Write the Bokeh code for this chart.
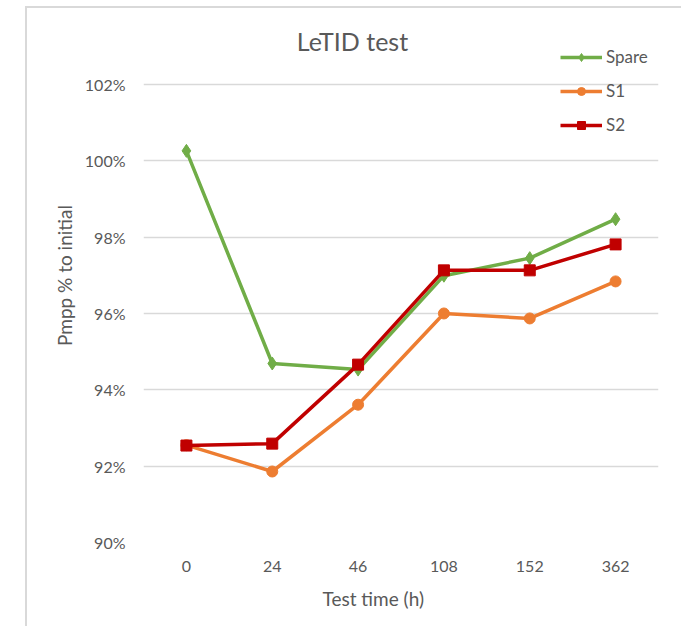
from bokeh.plotting import figure
from bokeh.models import (ColumnDataSource, FactorRange, Range1d, NumeralTickFormatter,
                          Legend, LegendItem, Label, Title, FixedTicker)
from bokeh.embed import file_html
from bokeh.resources import INLINE

# ---- data ----
times = ["0", "24", "46", "108", "152", "362"]
spare = [1.0026, 0.9469, 0.9453, 0.9699, 0.9745, 0.9847]
s1 = [0.9255, 0.9186, 0.9361, 0.9600, 0.9587, 0.9684]
s2 = [0.9254, 0.9259, 0.9466, 0.9713, 0.9713, 0.9781]
y_ticks = [0.90, 0.92, 0.94, 0.96, 0.98, 1.00, 1.02]

FONT = "Lato"
TXT = "#595959"
GREEN = "#70AD47"
ORANGE = "#ED7D31"
RED = "#C00000"
BORDER = "2px solid #D9D9D9"

src = ColumnDataSource(dict(t=times, spare=spare, s1=s1, s2=s2))

p = figure(width=667, height=620, x_range=FactorRange(*times),
           y_range=Range1d(0.90, 1.0399), output_backend="svg",
           toolbar_location=None, min_border_left=116, min_border_right=36,
           min_border_top=0, min_border_bottom=86,
           styles={"margin-left": "25px", "margin-top": "6px",
                   "border-left": BORDER, "border-top": BORDER,
                   "border-right": BORDER})
p.outline_line_color = None
p.background_fill_color = "white"
p.border_fill_color = "white"

# axes
p.xaxis.axis_line_color = None
p.yaxis.axis_line_color = None
p.xaxis.major_tick_line_color = None
p.yaxis.major_tick_line_color = None
p.xaxis.minor_tick_line_color = None
p.yaxis.minor_tick_line_color = None
p.yaxis.ticker = FixedTicker(ticks=y_ticks)
p.yaxis.formatter = NumeralTickFormatter(format="0%")
for ax in (p.xaxis, p.yaxis):
    ax.major_label_text_font = FONT
    ax.major_label_text_font_size = "16px"
    ax.major_label_text_color = TXT
p.yaxis.major_label_standoff = 12
p.xaxis.major_label_standoff = 12
p.yaxis.axis_label = "Pmpp % to initial"
p.yaxis.axis_label_text_font = FONT
p.yaxis.axis_label_text_font_size = "19px"
p.yaxis.axis_label_text_font_style = "normal"
p.yaxis.axis_label_text_color = TXT
p.yaxis.axis_label_standoff = 6

p.xgrid.grid_line_color = None
p.ygrid.grid_line_color = "#D9D9D9"
p.ygrid.grid_line_width = 1.5

# series
r_sp_l = p.line("t", "spare", source=src, line_color=GREEN, line_width=3.5)
r_sp_m = p.scatter("t", "spare", source=src, marker="diamond", size=13,
                   fill_color=GREEN, line_color=GREEN)
r_s1_l = p.line("t", "s1", source=src, line_color=ORANGE, line_width=3.5)
r_s1_m = p.scatter("t", "s1", source=src, marker="circle", size=11,
                   fill_color=ORANGE, line_color=ORANGE)
r_s2_l = p.line("t", "s2", source=src, line_color=RED, line_width=3.5)
r_s2_m = p.scatter("t", "s2", source=src, marker="square", size=11,
                   fill_color=RED, line_color=RED)

legend = Legend(items=[
    LegendItem(label="Spare", renderers=[r_sp_l, r_sp_m]),
    LegendItem(label="S1", renderers=[r_s1_l, r_s1_m]),
    LegendItem(label="S2", renderers=[r_s2_l, r_s2_m]),
], location=(417, 407), orientation="vertical")
legend.border_line_color = None
legend.background_fill_alpha = 0
legend.padding = 0
legend.margin = 0
legend.spacing = 13
legend.glyph_width = 42
legend.glyph_height = 20
legend.label_height = 20
legend.label_standoff = 4
legend.label_text_font = FONT
legend.label_text_font_size = "17px"
legend.label_text_color = TXT
p.add_layout(legend, "center")

# chart title, centred over the whole chart area
p.add_layout(Label(x=2.435, y=1.0315, text="LeTID test", text_font=FONT,
                   text_font_size="25px", text_color=TXT, text_align="center",
                   text_baseline="middle"))

# x axis title
xt = Title(text="Test time (h)", align="left", offset=179, standoff=21,
           text_font=FONT, text_font_size="19px", text_font_style="normal",
           text_color=TXT)
p.add_layout(xt, "below")

open("out.html", "w").write(file_html(p, INLINE))
